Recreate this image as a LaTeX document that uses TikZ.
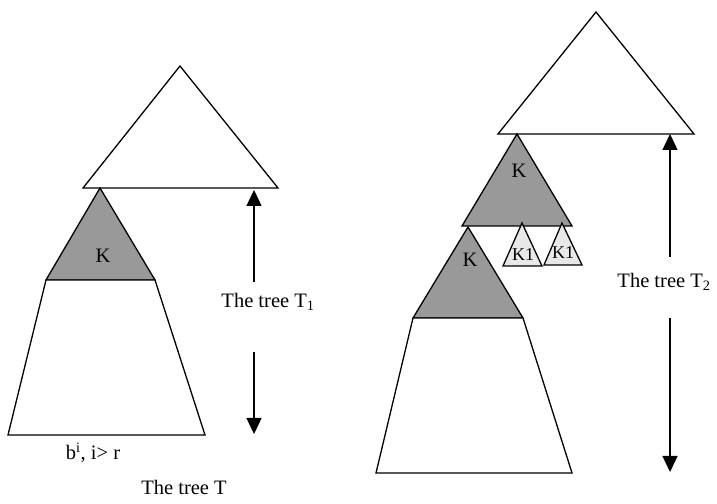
\documentclass[tikz,border=0pt]{standalone}
\usepackage{fontspec}
\setmainfont{Liberation Serif}
\usepackage{tikz}
\usetikzlibrary{arrows.meta, positioning}

\begin{document}
\begin{tikzpicture}[x=1pt, y=1pt, >={Triangle[length=16pt, width=15pt]}, line width=1.3pt, font=\fontsize{20.5}{23}\selectfont]
  \tikzset{
    plain/.style={draw=black, fill=white},
    kpart/.style={draw=black, fill=gray!80},
    kone/.style={draw=black, fill=gray!18},
    lbl/.style={inner sep=1pt},
  }
  \useasboundingbox (0,0) rectangle (717,503);

  % 1. Linker Baum T
  \draw[plain] (180,437) -- (83,315) -- (278,315) -- cycle;
  \draw[kpart] (100,315) -- (46,223) -- (155,223) -- cycle;
  \draw[plain] (46,223) -- (155,223) -- (205,68) -- (8,68) -- cycle;
  \node[lbl] (kleft) at (103,247) {K};
  \node[lbl] (leaves) at (93,50) {b\textsuperscript{i}, i> r};
  \node[lbl] (treeT) at (184,16) {The tree T};

  % Pfeil fuer T1
  \node[lbl] (treeTa) at (268,201) {The tree T\textsubscript{1}};
  \coordinate (ta top) at (254,313);
  \coordinate (ta up) at (254,221);
  \coordinate (ta down) at (254,151);
  \coordinate (ta bot) at (254,69);
  \draw[->] (ta up) -- (ta top);
  \draw[->] (ta down) -- (ta bot);

  % 2. Rechter Baum T2
  \draw[plain] (596,491) -- (498,369) -- (694,369) -- cycle;
  \draw[kpart] (517,369) -- (462,277) -- (572,277) -- cycle;
  \node[lbl] (ktop) at (519,332) {K};
  \draw[kone] (522,280) -- (503,237) -- (542,237) -- cycle;
  \draw[kone] (562,280) -- (544,238) -- (582,238) -- cycle;
  \node[lbl, font=\fontsize{18}{20}\selectfont] (kone a) at (523,248) {K1};
  \node[lbl, font=\fontsize{18}{20}\selectfont] (kone b) at (563,250) {K1};
  \draw[kpart] (468,276) -- (413,185) -- (523,185) -- cycle;
  \node[lbl] (kright) at (470,243) {K};
  \draw[plain] (413,185) -- (523,185) -- (572,30) -- (376,30) -- cycle;

  % Pfeil fuer T2
  \node[lbl] (treeTb) at (664,221) {The tree T\textsubscript{2}};
  \coordinate (tb top) at (670,369);
  \coordinate (tb up) at (670,246);
  \coordinate (tb down) at (670,185);
  \coordinate (tb bot) at (670,31);
  \draw[->] (tb up) -- (tb top);
  \draw[->] (tb down) -- (tb bot);

\end{tikzpicture}
\end{document}
